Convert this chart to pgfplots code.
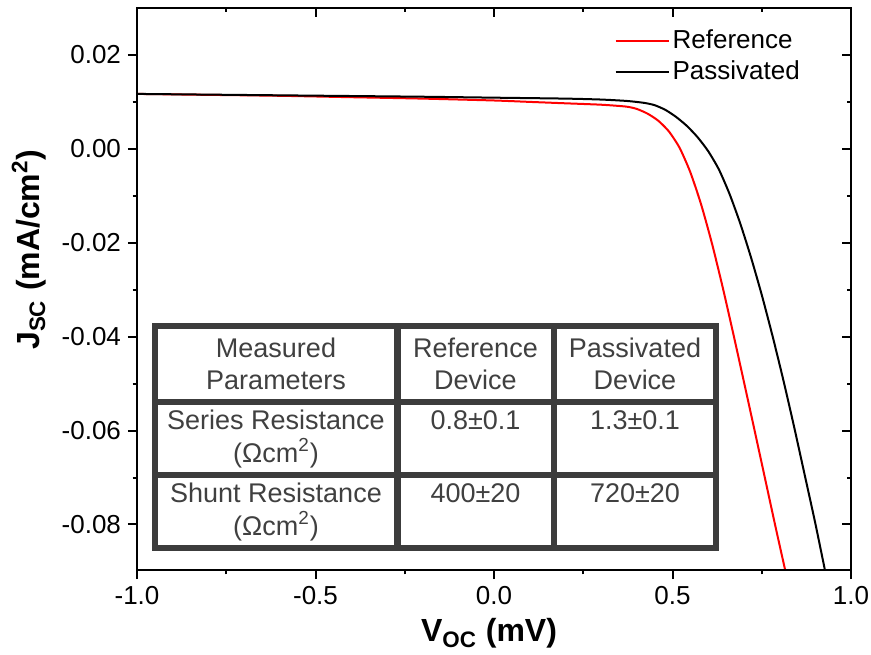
\documentclass[border=0pt]{standalone}
\usepackage{pgfplots}
\pgfplotsset{compat=1.18}
\usepackage{fontspec}
\setmainfont{Liberation Sans}
\definecolor{tabgray}{HTML}{3C3C3C}
\definecolor{txtgray}{HTML}{404040}
\begin{document}
\begin{tikzpicture}
\useasboundingbox (-68.5pt,-42pt) rectangle (367pt,285pt);
\begin{axis}[
  at={(0pt,0pt)}, anchor=south west,
  scale only axis, width=357pt, height=281pt,
  xmin=-1, xmax=1, ymin=-0.0897, ymax=0.030,
  xtick={-1,-0.5,0,0.5,1},
  ytick={-0.08,-0.06,-0.04,-0.02,0,0.02},
  minor x tick num=1, minor y tick num=1,
  scaled y ticks=false, scaled x ticks=false,
  tick align=outside, xtick pos=left, ytick pos=left,
  major tick length=4.5pt, minor tick length=2.2pt,
  axis line style={line width=1pt},
  every tick/.style={line width=1pt, black},
  /pgf/number format/assume math mode=true,
  tick label style={font=\fontsize{13}{15}\selectfont},
  xticklabel style={/pgf/number format/.cd, fixed, fixed zerofill, precision=1},
  yticklabel style={/pgf/number format/.cd, fixed, fixed zerofill, precision=2},
  xlabel={\textbf{V\textsubscript{OC} (mV)}},
  ylabel={\textbf{J\textsubscript{SC} (mA/cm\textsuperscript{2})}},
  label style={font=\fontsize{16}{19}\selectfont},
  xlabel style={at={(axis description cs:0.493,-0.128)}, anchor=base},
  ylabel style={at={(axis description cs:-0.136,0.57)}, anchor=base, rotate=0},
  legend style={draw=none, fill=none, at={(axis description cs:0.660,0.974)}, anchor=north west,
    font=\fontsize{13}{15}\selectfont, row sep=1.5pt,
    nodes={inner sep=1.5pt}},
  legend cell align=left,
  legend image code/.code={\draw[#1] (0pt,0pt) -- (26.5pt,0pt);},
]
\addplot[red, line width=1pt, smooth, tension=0.4] coordinates {
(-1.00,0.0117) (-0.80,0.0115) (-0.60,0.0113) (-0.40,0.0110) (-0.20,0.0107)
(0.00,0.0103) (0.10,0.0100) (0.20,0.0097) (0.30,0.0094) (0.37,0.0090)
(0.40,0.0085) (0.43,0.0075) (0.46,0.0060) (0.49,0.0037) (0.52,0.0002)
(0.55,-0.0050) (0.58,-0.0118) (0.61,-0.0200) (0.64,-0.0293) (0.67,-0.0393)
(0.70,-0.0496) (0.73,-0.0600) (0.76,-0.0705) (0.79,-0.0810) (0.82,-0.0912)
};
\addlegendentry{Reference}
\addplot[black, line width=1pt, smooth, tension=0.4] coordinates {
(-1.00,0.0117) (-0.60,0.0114) (-0.20,0.0111) (0.00,0.0109) (0.20,0.0107)
(0.30,0.0105) (0.372,0.0102) (0.42,0.0098) (0.45,0.0093) (0.48,0.0083)
(0.51,0.0068) (0.54,0.0049) (0.57,0.0025) (0.60,-0.0005) (0.63,-0.0044)
(0.66,-0.00965) (0.69,-0.01595) (0.72,-0.02315) (0.75,-0.0311) (0.78,-0.0398)
(0.81,-0.0491) (0.84,-0.0590) (0.87,-0.06935) (0.90,-0.07975) (0.93,-0.09085)
};
\addlegendentry{Passivated}
\end{axis}
\begin{axis}[
  at={(0pt,0pt)}, anchor=south west,
  scale only axis, width=357pt, height=281pt,
  xmin=-1, xmax=1, ymin=-0.0897, ymax=0.030,
  xtick={-1,-0.5,0,0.5,1},
  ytick={-0.08,-0.06,-0.04,-0.02,0,0.02},
  minor x tick num=1, minor y tick num=1,
  scaled y ticks=false,
  tick align=inside, xtick pos=right, ytick pos=right,
  major tick length=4.5pt, minor tick length=2.2pt,
  axis line style={line width=1pt},
  every tick/.style={line width=1pt, black},
  xticklabels={}, yticklabels={},
]
\end{axis}
% inset table
\begin{scope}[font=\fontsize{13.5}{16}\selectfont, text=txtgray]
\fill[white] (9pt,11pt) rectangle (289.5pt,122pt);
\draw[tabgray, line width=3.2pt] (9pt,11pt) rectangle (289.5pt,122pt);
\draw[tabgray, line width=3.2pt] (130.25pt,11pt) -- (130.25pt,122pt);
\draw[tabgray, line width=3.2pt] (208.5pt,11pt) -- (208.5pt,122pt);
\draw[tabgray, line width=3.2pt] (9pt,84pt) -- (289.5pt,84pt);
\draw[tabgray, line width=3.2pt] (9pt,47.5pt) -- (289.5pt,47.5pt);
\node[anchor=base] at (69.5pt,106.5pt) {Measured};
\node[anchor=base] at (69.5pt,90.5pt) {Parameters};
\node[anchor=base] at (169.25pt,106.5pt) {Reference};
\node[anchor=base] at (169.25pt,90.5pt) {Device};
\node[anchor=base] at (249pt,106.5pt) {Passivated};
\node[anchor=base] at (249pt,90.5pt) {Device};
\node[anchor=base] at (69.5pt,70.5pt) {Series Resistance};
\node[anchor=base] at (69.5pt,54pt) {(Ωcm\textsuperscript{2})};
\node[anchor=base] at (169.25pt,70.5pt) {0.8±0.1};
\node[anchor=base] at (249pt,70.5pt) {1.3±0.1};
\node[anchor=base] at (69.5pt,34pt) {Shunt Resistance};
\node[anchor=base] at (69.5pt,17.5pt) {(Ωcm\textsuperscript{2})};
\node[anchor=base] at (169.25pt,34pt) {400±20};
\node[anchor=base] at (249pt,34pt) {720±20};
\end{scope}
\end{tikzpicture}
\end{document}
